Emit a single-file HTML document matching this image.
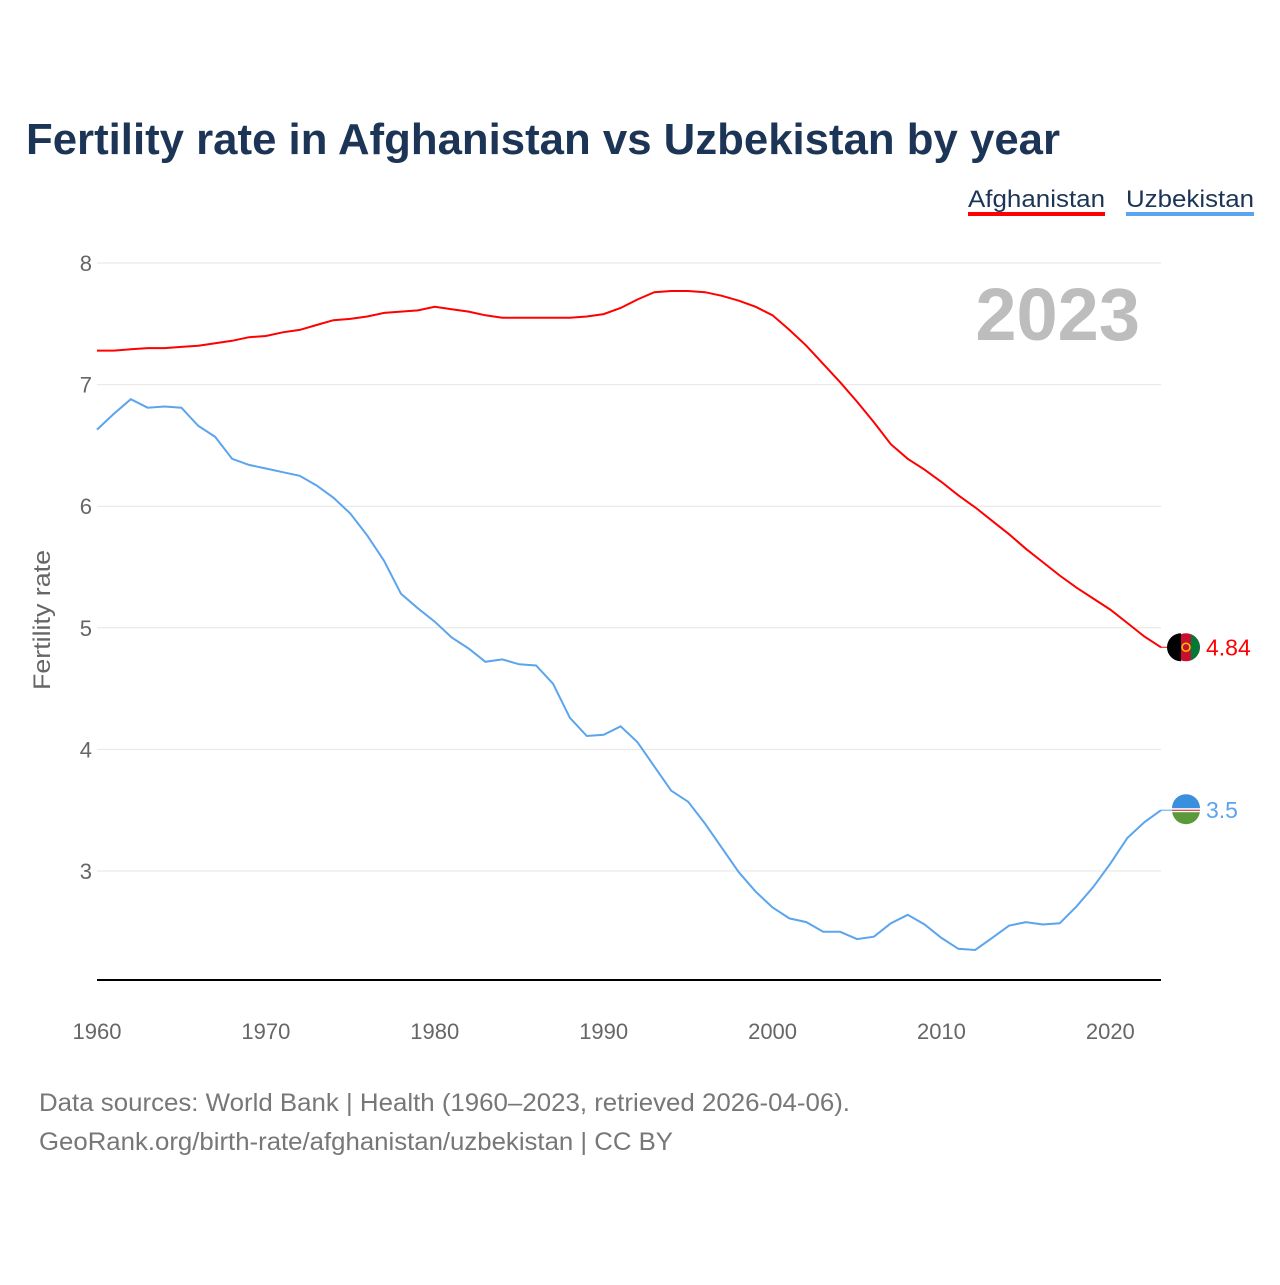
<!DOCTYPE html>
<html><head><meta charset="utf-8"><style>
body{margin:0;width:1280px;height:1280px;background:#fff;font-family:"Liberation Sans",sans-serif;overflow:hidden}
svg text{font-family:"Liberation Sans",sans-serif}
</style></head><body>
<svg id="chart" width="1280" height="1280" viewBox="0 0 1280 1280">
<text x="26" y="154" font-size="44" font-weight="bold" fill="#1c3557" textLength="1034" lengthAdjust="spacingAndGlyphs">Fertility rate in Afghanistan vs Uzbekistan by year</text>
<g><text x="968" y="207" font-size="24" fill="#1c3557" textLength="137" lengthAdjust="spacingAndGlyphs">Afghanistan</text><rect x="968" y="212" width="137" height="4" fill="#ff0000"/></g>
<g><text x="1126" y="207" font-size="24" fill="#1c3557" textLength="128" lengthAdjust="spacingAndGlyphs">Uzbekistan</text><rect x="1126" y="212" width="128" height="4" fill="#5ba4ee"/></g>
<text x="1140" y="340" font-size="74" font-weight="bold" fill="#bdbdbd" text-anchor="end">2023</text>
<text transform="translate(50,620) rotate(-90)" font-size="24" fill="#666" text-anchor="middle" textLength="140" lengthAdjust="spacingAndGlyphs">Fertility rate</text>
<g id="grid"></g><g id="lines"></g>
<text x="39" y="1111" font-size="25" fill="#777" textLength="811" lengthAdjust="spacingAndGlyphs">Data sources: World Bank | Health (1960–2023, retrieved 2026-04-06).</text>
<text x="39" y="1150" font-size="25" fill="#777" textLength="634" lengthAdjust="spacingAndGlyphs">GeoRank.org/birth-rate/afghanistan/uzbekistan | CC BY</text>
</svg>
<script>
const years=[];for(let y=1960;y<=2023;y++)years.push(y);
const afghanistan=[7.28,7.28,7.29,7.30,7.30,7.31,7.32,7.34,7.36,7.39,7.40,7.43,7.45,7.49,7.53,7.54,7.56,7.59,7.60,7.61,7.64,7.62,7.60,7.57,7.55,7.55,7.55,7.55,7.55,7.56,7.58,7.63,7.70,7.76,7.77,7.77,7.76,7.73,7.69,7.64,7.57,7.45,7.32,7.17,7.02,6.86,6.69,6.51,6.39,6.30,6.20,6.09,5.99,5.88,5.77,5.65,5.54,5.43,5.33,5.24,5.15,5.04,4.93,4.84];
const uzbekistan=[6.63,6.76,6.88,6.81,6.82,6.81,6.66,6.57,6.39,6.34,6.31,6.28,6.25,6.17,6.07,5.94,5.76,5.55,5.28,5.16,5.05,4.92,4.83,4.72,4.74,4.70,4.69,4.54,4.26,4.11,4.12,4.19,4.06,3.86,3.66,3.57,3.39,3.19,2.99,2.83,2.70,2.61,2.58,2.50,2.50,2.44,2.46,2.57,2.64,2.56,2.45,2.36,2.35,2.45,2.55,2.58,2.56,2.57,2.71,2.87,3.06,3.27,3.40,3.50];
const yTicks=[3,4,5,6,7,8];
const xTicks=[1960,1970,1980,1990,2000,2010,2020];
const NS="http://www.w3.org/2000/svg";
const X=y=>97+(y-1960)*(1161-97)/63;
const Y=v=>263+(8-v)*121.6;
function mk(t,a,p){const e=document.createElementNS(NS,t);for(const k in a)e.setAttribute(k,a[k]);p.appendChild(e);return e;}
const g=document.getElementById('grid'),L=document.getElementById('lines');
yTicks.forEach(v=>{
 const l=mk('line',{x1:97,x2:1161,y1:Y(v),y2:Y(v),stroke:'#e6e6e6'},g);
 
 
 const t=mk('text',{x:92,y:Y(v)+8,'font-size':22,fill:'#666','text-anchor':'end'},g);t.textContent=v;
 
 
});
const ax=mk('line',{x1:97,x2:1161,y1:980,y2:980,stroke:'#000','stroke-width':2},g);


xTicks.forEach(v=>{
 const t=mk('text',{x:X(v),y:1039,'font-size':22,fill:'#666','text-anchor':'middle'},g);t.textContent=v;
 
 
});
function series(d,c,name){
 const p=mk('path',{d:d.map((v,i)=>(i?'L':'M')+X(years[i]).toFixed(1)+','+Y(v).toFixed(1)).join(''),fill:'none',stroke:c,'stroke-width':2},L);
 
 
 const last=d[d.length-1],cx=X(2023)+25,cy=Y(last);
 mk('line',{x1:X(2023),x2:cx-14,y1:cy,y2:cy,stroke:c,'stroke-width':1},L);
 const f=mk('circle',{cx:cx,cy:cy,r:14,fill:name==='afghanistan'?'#c8102e':'#5a9a3a'},L);
 
 
 if(name==='afghanistan'){mk('path',{d:`M${cx-5},${cy-14}A14,14 0 0 0 ${cx-5},${cy+14}Z`,fill:'#000'},L);mk('path',{d:`M${cx+5},${cy-13}A14,14 0 0 1 ${cx+5},${cy+13}Z`,fill:'#007a36'},L);mk('circle',{cx:cx,cy:cy,r:4,fill:'none',stroke:'#f3c300','stroke-width':1.5},L);}
 else{mk('path',{d:`M${cx-14},${cy-2}A14,14 0 0 1 ${cx+14},${cy-2}Z`,fill:'#3a8fde'},L);mk('rect',{x:cx-14,y:cy-2,width:28,height:4,fill:'#fff'},L);mk('line',{x1:cx-14,x2:cx+14,y1:cy,y2:cy,stroke:'#ce1126','stroke-width':1},L);}
 const t=mk('text',{x:cx+20,y:cy+8,'font-size':23,fill:c},L);t.textContent=last;
 
 
}
series(afghanistan,'#ff0000','afghanistan');
series(uzbekistan,'#5ba4ee','uzbekistan');
</script>
</body></html>
